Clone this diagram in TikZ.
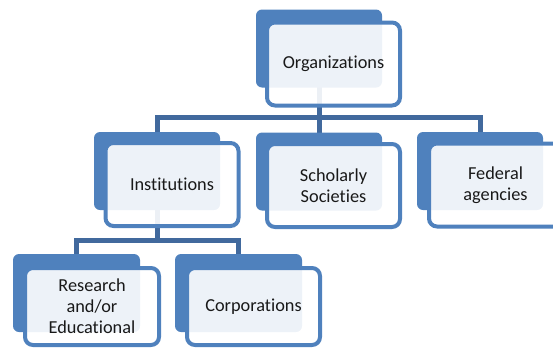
\documentclass[tikz,border=0pt]{standalone}
\usepackage{fontspec}
\setmainfont{Carlito}[Ligatures={NoCommon,NoContextual}]
\usetikzlibrary{backgrounds}
\definecolor{boxblue}{HTML}{4F81BD}
\definecolor{connblue}{HTML}{41699D}
\begin{document}
\begin{tikzpicture}[x=1pt,y=1pt,
  backbox/.style={draw=none,fill=boxblue,rounded corners=6pt,minimum width=126pt,minimum height=78pt,inner sep=0pt,outer sep=0pt},
  frontbox/.style={draw=boxblue,line width=4pt,fill=white,fill opacity=0.9,text opacity=1,rounded corners=8pt,minimum width=133pt,minimum height=83pt,inner sep=0pt,outer sep=0pt,align=center,font=\fontsize{18.3}{21}\selectfont,text=black!90},
  conn/.style={draw=connblue,line width=5pt,line join=miter}]
\useasboundingbox (0,0) rectangle (553,-348);
% Organizations
\node[backbox] (orgB) at (319,-48.5) {};
\node[frontbox] (orgF) at (333.5,-64) {Organizations};
% Institutions
\node[backbox] (instB) at (157,-171) {};
\node[frontbox] (instF) at (172,-184.5) {Institutions};
% Scholarly Societies
\node[backbox] (scholB) at (319,-171.5) {};
\node[frontbox] (scholF) at (333.5,-185.5) {Scholarly\\Societies};
% Federal agencies
\node[backbox] (fedB) at (480,-171) {};
\node[frontbox] (fedF) at (495.5,-185) {Federal\\agencies};
% Research and/or Educational
\node[backbox,minimum width=127pt] (resB) at (76.5,-293) {};
\node[frontbox,minimum width=134pt,minimum height=77pt] (resF) at (92,-306.5) {Research\\and/or\\Educational};
% Corporations
\node[backbox,minimum width=127pt] (corpB) at (238.5,-293) {};
\node[frontbox,minimum width=133pt,minimum height=77pt] (corpF) at (253.5,-306.5) {Corporations};
% connectors
\coordinate (bar1) at (319,-117);
\coordinate (bar2) at (157,-240);
\begin{scope}[on background layer]
\draw[conn] (orgB.center) -- (orgB.center |- bar1);
\draw[conn] (instB.center) |- (fedB.center |- bar1) -- (fedB.center);
\draw[conn] (scholB.center) -- (scholB.center |- bar1);
\draw[conn] (instB.center) -- (instB.center |- bar2);
\draw[conn] (resB.center) |- (corpB.center |- bar2) -- (corpB.center);
\end{scope}
\end{tikzpicture}
\end{document}
